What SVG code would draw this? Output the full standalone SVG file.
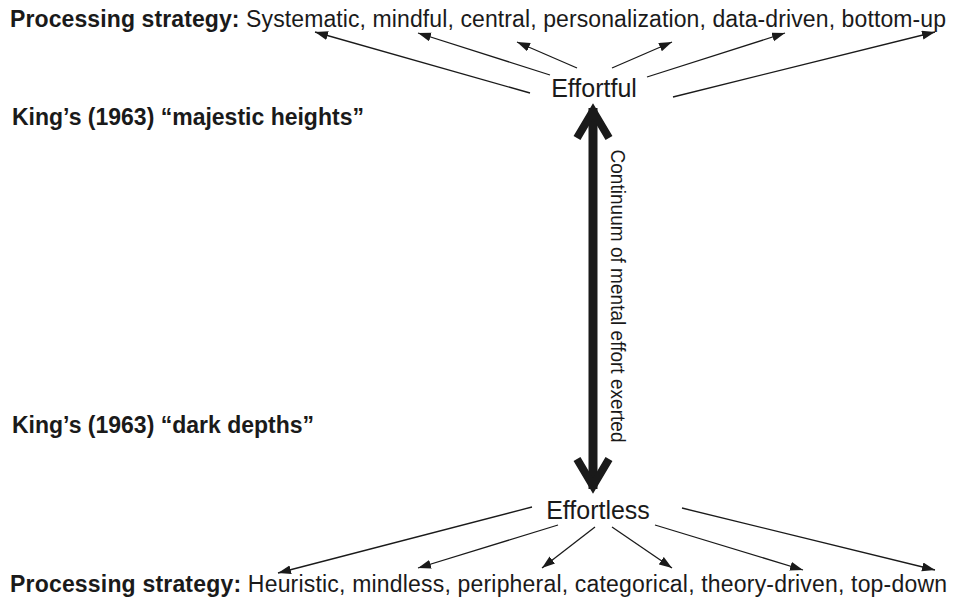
<svg xmlns="http://www.w3.org/2000/svg" width="954" height="600" viewBox="0 0 954 600">
<style>
text{font-family:"Liberation Sans",Arial,Helvetica,sans-serif;fill:#1a1a1a}
.b{font-weight:bold}
.lbl{font-size:23px}
.node{font-size:25px}
.thin{stroke:#1a1a1a;stroke-width:1.3;fill:none}
.thick{stroke:#1a1a1a;stroke-width:9;fill:none}
.head{stroke:#1a1a1a;stroke-width:8;fill:none;stroke-linejoin:miter;stroke-miterlimit:6}
</style>
<defs>
<marker id="ah" markerUnits="userSpaceOnUse" markerWidth="14" markerHeight="10" refX="13" refY="4.5" orient="auto">
<path d="M0,0 L13,4.5 L0,9 z" fill="#1a1a1a"/>
</marker>
</defs>
<rect width="954" height="600" fill="#ffffff"/>
<g id="top-strategy">
<text class="lbl" x="10" y="27" textLength="936" lengthAdjust="spacing"><tspan class="b">Processing strategy:</tspan> Systematic, mindful, central, personalization, data-driven, bottom-up</text>
</g>
<g id="majestic">
<text class="lbl b" x="12" y="125">King’s (1963) “majestic heights”</text>
</g>
<g id="dark">
<text class="lbl b" x="12" y="433">King’s (1963) “dark depths”</text>
</g>
<g id="effortful">
<text class="node" x="594" y="97" text-anchor="middle">Effortful</text>
</g>
<g id="effortless">
<text class="node" x="598" y="519" text-anchor="middle">Effortless</text>
</g>
<g id="bottom-strategy">
<text class="lbl" x="10" y="592" textLength="937" lengthAdjust="spacing"><tspan class="b">Processing strategy:</tspan> Heuristic, mindless, peripheral, categorical, theory-driven, top-down</text>
</g>
<g id="continuum-label">
<text transform="translate(611,296) rotate(90)" font-size="20" text-anchor="middle" textLength="293" lengthAdjust="spacingAndGlyphs">Continuum of mental effort exerted</text>
</g>
<g id="connectors">
<line class="thin" x1="530" y1="93" x2="315" y2="32" marker-end="url(#ah)"/>
<line class="thin" x1="550" y1="75" x2="418" y2="33" marker-end="url(#ah)"/>
<line class="thin" x1="577" y1="68" x2="517" y2="42" marker-end="url(#ah)"/>
<line class="thin" x1="612" y1="68" x2="672" y2="42" marker-end="url(#ah)"/>
<line class="thin" x1="647" y1="77" x2="785" y2="33" marker-end="url(#ah)"/>
<line class="thin" x1="673" y1="97" x2="935" y2="32" marker-end="url(#ah)"/>
<line class="thin" x1="532" y1="507" x2="278" y2="573" marker-end="url(#ah)"/>
<line class="thin" x1="558" y1="525" x2="418" y2="568" marker-end="url(#ah)"/>
<line class="thin" x1="595" y1="527" x2="542" y2="568" marker-end="url(#ah)"/>
<line class="thin" x1="612" y1="527" x2="672" y2="568" marker-end="url(#ah)"/>
<line class="thin" x1="655" y1="525" x2="803" y2="570" marker-end="url(#ah)"/>
<line class="thin" x1="682" y1="508" x2="935" y2="570" marker-end="url(#ah)"/>
<line class="thick" x1="593" y1="108" x2="593" y2="489"/>
<polyline class="head" points="577,138 593,111 609,138"/>
<polyline class="head" points="577,459 593,486 609,459"/>
</g>
</svg>
